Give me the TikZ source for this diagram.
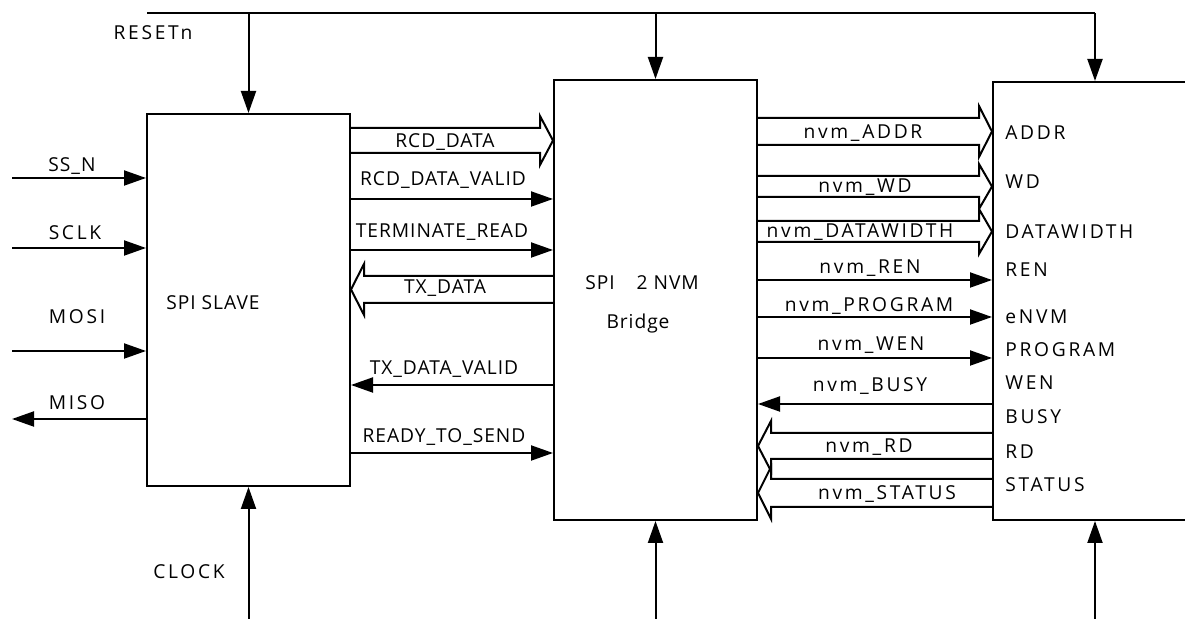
\documentclass[tikz,border=0pt]{standalone}
\usepackage{fontspec}
\setmainfont{Open Sans}
\newfontfamily\sigfont[LetterSpace=5]{Open Sans}
\newfontfamily\widefont[LetterSpace=14]{Open Sans}
\usetikzlibrary{positioning,arrows.meta,calc}

% bus arrow: #1 from, #2 to, #3 top y, #4 bottom y, #5 = 1 (right) / -1 (left)
\newcommand{\busarrow}[5]{%
  \draw[bus] (#1 |- 0,#3) -- ($(#2 |- 0,#3)+(-13*#5,0)$) -- ++(0,-12)
    -- ($(#2 |- 0,#3)!0.5!(#2 |- 0,#4)$) -- ($(#2 |- 0,#4)+(-13*#5,12)$)
    -- ++(0,-12) -- (#1 |- 0,#4);}

\begin{document}
\begin{tikzpicture}[
  x=0.5pt, y=-0.5pt, >={Triangle[length=11pt,width=7.5pt]},
  blk/.style={draw, line width=1pt, inner sep=0pt},
  wire/.style={line width=1pt},
  sig/.style={->, line width=1pt},
  bus/.style={line width=1pt, line join=miter},
  lbl/.style={inner sep=0pt, font=\sigfont\fontsize{9.6}{11}\selectfont},
  wlbl/.style={inner sep=0pt, font=\widefont\fontsize{9.6}{11}\selectfont},
  port/.style={wlbl, anchor=west},
]
\useasboundingbox (0,0) rectangle (1185,619);

% blocks
\node[blk, minimum width=101.5pt, minimum height=186pt] (slave)  at (248.5,300) {};
\node[blk, minimum width=101.5pt, minimum height=220pt] (bridge) at (655.5,300) {};
\node[blk, minimum width=102pt,   minimum height=219pt] (nvm)    at (1095,301) {};

\node[lbl] (slavetxt)   at (213,303) {SPI SLAVE};
\node[lbl] (bridgetxt)  at (642,283) {SPI\hspace{11pt}2 NVM};
\node[lbl] (bridgetxt2) at (638,324) {Bridge};

% reset and clocks
\coordinate (rst) at (147,13);
\coordinate (bot) at (0,619);
\draw[wire] (rst) -- (nvm.north |- rst);
\draw[sig] (slave.north |- rst)  -- (slave.north);
\draw[sig] (bridge.north |- rst) -- (bridge.north);
\draw[sig] (nvm.north |- rst)    -- (nvm.north);
\draw[sig] (slave.south |- bot)  -- (slave.south);
\draw[sig] (bridge.south |- bot) -- (bridge.south);
\draw[sig] (nvm.south |- bot)    -- (nvm.south);
\node[wlbl] (lrst) at (153,33)  {RESETn};
\node[wlbl] (lclk) at (189,572) {CLOCK};

% spi pins
\coordinate (ssn)  at (12,178);
\coordinate (sclk) at (12,248);
\coordinate (mosi) at (12,351);
\coordinate (miso) at (12,419);
\draw[sig] (ssn)  -- (ssn -| slave.west);
\draw[sig] (sclk) -- (sclk -| slave.west);
\draw[sig] (mosi) -- (mosi -| slave.west);
\draw[sig] (miso -| slave.west) -- (miso);
\node[lbl]  (lssn)  at (72,166)  {SS\_N};
\node[wlbl] (lsclk) at (75,233)  {SCLK};
\node[wlbl] (lmosi) at (77,317)  {MOSI};
\node[wlbl] (lmiso) at (77,403)  {MISO};

% slave <-> bridge
\busarrow{slave.east}{bridge.west}{128}{153}{1}
\draw[sig] (slave.east |- 0,199) -- (bridge.west |- 0,199);
\draw[sig] (slave.east |- 0,250) -- (bridge.west |- 0,250);
\busarrow{bridge.west}{slave.east}{276}{303}{-1}
\draw[sig] (bridge.west |- 0,385) -- (slave.east |- 0,385);
\draw[sig] (slave.east |- 0,453) -- (bridge.west |- 0,453);
\node[lbl] (lrcd)   at (445,142) {RCD\_DATA};
\node[lbl] (lrcdv)  at (443,180) {RCD\_DATA\_VALID};
\node[lbl] (lterm)  at (442,232) {TERMINATE\_READ};
\node[lbl] (ltx)    at (445,288) {TX\_DATA};
\node[lbl] (ltxv)   at (444,369) {TX\_DATA\_VALID};
\node[lbl] (lready) at (444,437) {READY\_TO\_SEND};

% bridge <-> nvm
\busarrow{bridge.east}{nvm.west}{118}{145}{1}
\busarrow{bridge.east}{nvm.west}{176}{197}{1}
\busarrow{bridge.east}{nvm.west}{221}{242}{1}
\draw[sig] (bridge.east |- 0,280) -- (nvm.west |- 0,280);
\draw[sig] (bridge.east |- 0,317) -- (nvm.west |- 0,317);
\draw[sig] (bridge.east |- 0,358) -- (nvm.west |- 0,358);
\draw[sig] (nvm.west |- 0,404) -- (bridge.east |- 0,404);
\busarrow{nvm.west}{bridge.east}{433}{459}{-1}
\busarrow{nvm.west}{bridge.east}{479}{507}{-1}
\node[wlbl] (laddr) at (863,133) {nvm\_ADDR};
\node[wlbl] (lwd)   at (865,187) {nvm\_WD};
\node[wlbl] (ldw)   at (860,232) {nvm\_DATAWIDTH};
\node[wlbl] (lren)  at (870,268) {nvm\_REN};
\node[wlbl] (lprog) at (869,306) {nvm\_PROGRAM};
\node[wlbl] (lwen)  at (871,345) {nvm\_WEN};
\node[wlbl] (lbusy) at (870,386) {nvm\_BUSY};
\node[wlbl] (lrd)   at (869,447) {nvm\_RD};
\node[wlbl] (lstat) at (887,494) {nvm\_STATUS};

% nvm ports
\node[port] (paddr) at (1005,133) {ADDR};
\node[port] (pwd)   at (1005,182) {WD};
\node[port] (pdw)   at (1005,232) {DATAWIDTH};
\node[port] (pren)  at (1005,270) {REN};
\node[port] (penvm) at (1005,317) {eNVM};
\node[port] (pprog) at (1005,350) {PROGRAM};
\node[port] (pwen)  at (1005,383) {WEN};
\node[port] (pbusy) at (1005,417) {BUSY};
\node[port] (prd)   at (1005,452) {RD};
\node[port] (pstat) at (1005,485) {STATUS};
\end{tikzpicture}
\end{document}
